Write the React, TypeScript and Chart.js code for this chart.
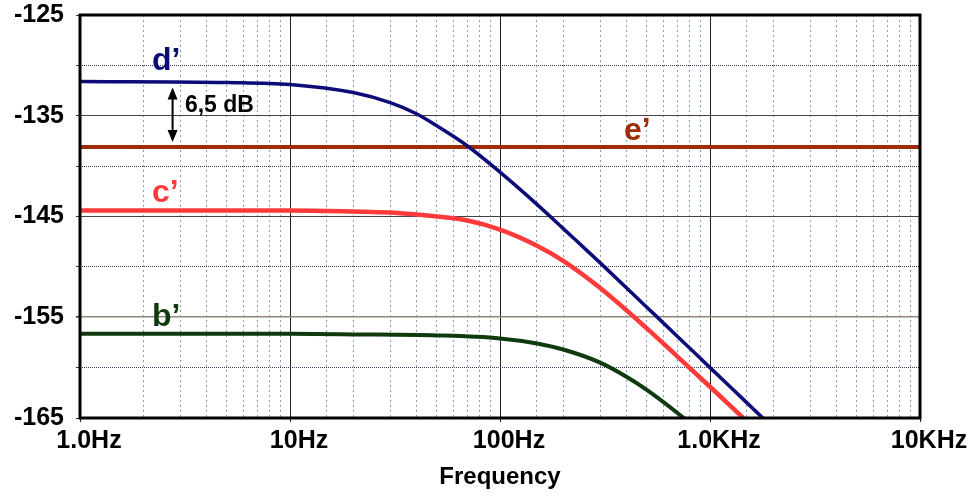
import React, { useEffect, useRef } from 'react';
import { Chart, registerables } from 'chart.js';

Chart.register(...registerables);

// ---- data ----
const dFreqs = [1, 5, 10, 20, 30, 40, 50, 70, 100, 150, 200, 300, 500, 700, 1000, 1500, 2000];
const dValues = [-131.6, -131.7, -131.9, -132.7, -133.7, -134.8, -136.0, -138.0, -140.6, -143.8, -146.2, -149.6, -154.0, -156.9, -160.0, -163.5, -166.0];

const cFreqs = [1, 5, 10, 20, 30, 40, 50, 70, 100, 150, 200, 300, 500, 700, 1000, 1500, 2000];
const cValues = [-144.4, -144.4, -144.4, -144.5, -144.6, -144.8, -145.0, -145.4, -146.3, -147.9, -149.4, -152.1, -156.1, -158.9, -161.9, -165.35, -167.8];

const bFreqs = [1, 10, 20, 50, 100, 150, 200, 300, 400, 500, 700, 1000];
const bValues = [-156.65, -156.65, -156.7, -156.8, -157.1, -157.6, -158.2, -159.5, -160.9, -162.2, -164.5, -167.2];

const eFreqs = [1, 10000];
const eValues = [-138.1, -138.1];

const xTickValues = [1, 10, 100, 1000, 10000];
const xTickLabels = ['1.0Hz', '10Hz', '100Hz', '1.0KHz', '10KHz'];
const yLabelValues = [-165, -155, -145, -135, -125];

const seriesNames = ['d’', 'c’', 'b’', 'e’'];

// ---- styles / annotations ----
const FONT = "'Liberation Sans', Arial, sans-serif";
const colors = { d: '#0c0c78', c: '#ff3a3a', b: '#0e3a0e', e: '#a02c08' };

const annotations = [
  { text: seriesNames[0], f: 2.2, v: -130.47, color: colors.d, size: 32 },
  { text: seriesNames[1], f: 2.2, v: -143.58, color: colors.c, size: 32 },
  { text: seriesNames[2], f: 2.2, v: -155.85, color: colors.b, size: 32 },
  { text: seriesNames[3], f: 389, v: -137.37, color: colors.e, size: 32 },
  { text: '6,5 dB', f: 3.16, v: -134.62, color: '#000', size: 23 },
];
const arrowFreq = 2.76;

const isDecade = (v: number) => {
  if (!v || v <= 0) return false;
  const l = Math.log10(v);
  return Math.abs(l - Math.round(l)) < 1e-6;
};

const toPts = (fs: number[], vs: number[]) => fs.map((f, i) => ({ x: f, y: vs[i] }));

const framePlugin = {
  id: 'frame',
  afterDatasetsDraw(chart: any) {
    const { ctx, chartArea: a, scales } = chart;
    ctx.save();
    ctx.strokeStyle = '#000';
    ctx.lineWidth = 3;
    ctx.strokeRect(a.left, a.top, a.right - a.left, a.bottom - a.top);

    // annotations
    ctx.textAlign = 'left';
    ctx.textBaseline = 'alphabetic';
    for (const an of annotations) {
      ctx.fillStyle = an.color;
      ctx.font = `bold ${an.size}px ${FONT}`;
      ctx.fillText(an.text, scales.x.getPixelForValue(an.f), scales.y.getPixelForValue(an.v));
    }

    // double arrow
    const ax = scales.x.getPixelForValue(arrowFreq);
    const y1 = scales.y.getPixelForValue(dValues[0]) + 6;
    const y2 = scales.y.getPixelForValue(eValues[0]) - 5;
    ctx.strokeStyle = '#000';
    ctx.fillStyle = '#000';
    ctx.lineWidth = 2;
    ctx.beginPath();
    ctx.moveTo(ax, y1 + 8);
    ctx.lineTo(ax, y2 - 8);
    ctx.stroke();
    ctx.beginPath();
    ctx.moveTo(ax, y1);
    ctx.lineTo(ax - 5, y1 + 12);
    ctx.lineTo(ax + 5, y1 + 12);
    ctx.closePath();
    ctx.fill();
    ctx.beginPath();
    ctx.moveTo(ax, y2);
    ctx.lineTo(ax - 5, y2 - 12);
    ctx.lineTo(ax + 5, y2 - 12);
    ctx.closePath();
    ctx.fill();
    ctx.restore();
  },
};

export default function App() {
  const ref = useRef<HTMLCanvasElement | null>(null);

  useEffect(() => {
    document.body.style.margin = '0';
    const canvas = ref.current;
    if (!canvas) return;
    const chart = new Chart(canvas, {
      type: 'line',
      data: {
        datasets: [
          { label: seriesNames[0], data: toPts(dFreqs, dValues), borderColor: colors.d, borderWidth: 3.5 },
          { label: seriesNames[1], data: toPts(cFreqs, cValues), borderColor: colors.c, borderWidth: 4.5 },
          { label: seriesNames[3], data: toPts(eFreqs, eValues), borderColor: colors.e, borderWidth: 4 },
          { label: seriesNames[2], data: toPts(bFreqs, bValues), borderColor: colors.b, borderWidth: 4 },
        ].map((d) => ({ ...d, pointRadius: 0, fill: false, cubicInterpolationMode: 'monotone' as const })),
      },
      options: {
        animation: false,
        responsive: false,
        devicePixelRatio: 1,
        layout: { padding: { top: 15, right: 54, bottom: 0, left: 0 } },
        plugins: { legend: { display: false }, tooltip: { enabled: false } },
        scales: {
          x: {
            type: 'logarithmic',
            min: 1,
            max: 10000,
            afterFit: (s: any) => { s.height = 79; },
            grid: {
              color: (c: any) => (isDecade(c.tick?.value) ? '#222' : '#8a9bb5'),
              tickColor: (c: any) => (isDecade(c.tick?.value) ? '#222' : 'rgba(0,0,0,0)'),
              lineWidth: 1,
              tickLength: 4,
            },
            border: {
              display: false,
              dash: (c: any) => (c.tick && !isDecade(c.tick.value) ? [2, 3] : []),
            },
            ticks: {
              autoSkip: false,
              maxRotation: 0,
              padding: 4,
              labelOffset: 9,
              color: '#000',
              font: { family: FONT, size: 25, weight: 'bold' },
              callback: (value: any) => {
                const v = Number(value);
                const i = xTickValues.findIndex((t) => Math.abs(t - v) < 1e-6 * t);
                return i >= 0 ? xTickLabels[i] : '';
              },
            },
            title: {
              display: true,
              text: 'Frequency',
              color: '#000',
              font: { family: FONT, size: 24, weight: 'bold' },
              padding: { top: 0, bottom: 5 },
            },
          },
          y: {
            type: 'linear',
            min: -165,
            max: -125,
            afterFit: (s: any) => { s.width = 80; s.paddingTop = 0; s.paddingBottom = 0; },
            grid: {
              color: (c: any) => {
                const v = c.tick?.value;
                if (v === -155) return '#93877a';
                return yLabelValues.includes(v) ? '#444' : '#3a3f58';
              },
              lineWidth: (c: any) => (c.tick?.value === -155 ? 1.6 : 1),
              tickColor: '#333',
              tickLength: 4,
            },
            border: {
              display: false,
              dash: (c: any) => (c.tick && !yLabelValues.includes(c.tick.value) ? [1, 1] : []),
            },
            ticks: {
              stepSize: 5,
              padding: 12,
              color: '#000',
              font: { family: FONT, size: 25, weight: 'bold' },
              callback: (value: any) => (yLabelValues.includes(Number(value)) ? String(value) : ''),
            },
          },
        },
      },
      plugins: [framePlugin],
    });
    return () => chart.destroy();
  }, []);

  return (
    <div style={{ position: 'absolute', left: 0, top: 0, width: 974, height: 497, background: '#fff' }}>
      <canvas ref={ref} width={974} height={497} />
    </div>
  );
}
